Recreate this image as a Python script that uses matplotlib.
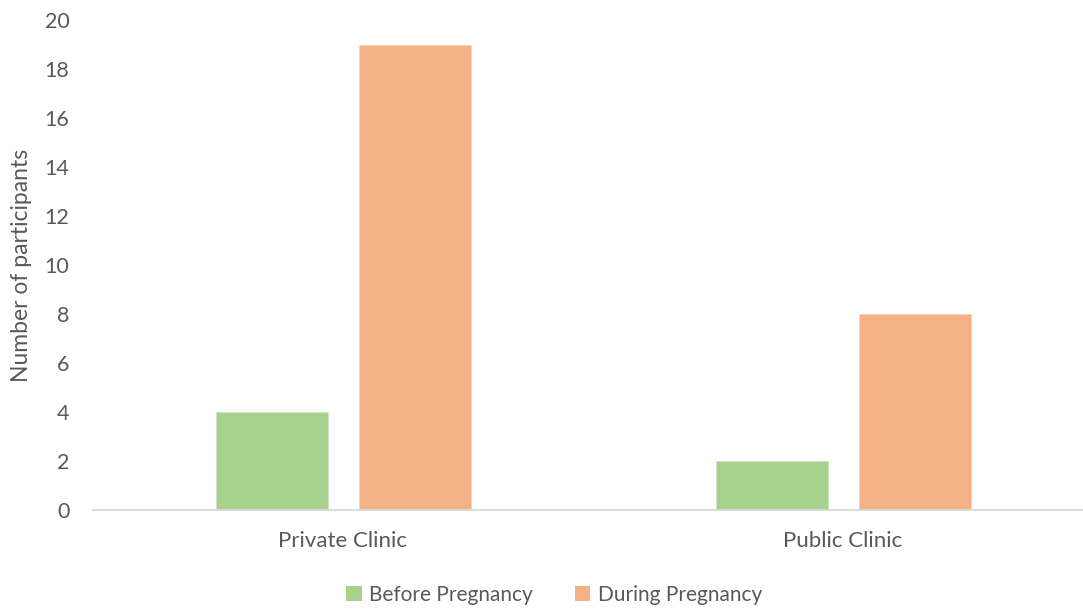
import numpy as np
import matplotlib.pyplot as plt
from matplotlib.patches import Patch

clinics = ["Private Clinic", "Public Clinic"]
before_preg = [4, 2]
during_preg = [19, 8]
series_names = ["Before Pregnancy", "During Pregnancy"]

green = "#A9D18E"
orange = "#F4B183"
txt = "#595959"

plt.rcParams["font.family"] = ["Lato", "DejaVu Sans"]

W, H = 1083, 610
fig = plt.figure(figsize=(W / 100, H / 100), dpi=100)
ax = fig.add_axes([93 / W, 100 / H, 1000 / W, 489.5 / H])

x = np.arange(len(clinics))
bw = 0.224
off = 0.143
ax.bar(x - off, before_preg, bw, color=green, edgecolor="#CFE6BF", linewidth=0.6)
ax.bar(x + off, during_preg, bw, color=orange, edgecolor="#F8D2B6", linewidth=0.6)

ax.set_xlim(-0.5, 1.5)
ax.set_ylim(0, 20)
ax.set_yticks(np.arange(0, 21, 2))
ax.set_xticks(x, labels=clinics)

for s in ["top", "right", "left"]:
    ax.spines[s].set_visible(False)
ax.spines["bottom"].set_color("#D9D9D9")
ax.spines["bottom"].set_linewidth(1.3)
ax.spines["bottom"].set_clip_on(False)

ax.tick_params(axis="y", length=0, pad=17, labelsize=15.5, labelcolor=txt)
ax.tick_params(axis="x", length=0, pad=15, labelsize=16, labelcolor=txt)
ax.set_ylabel("Number of participants", fontsize=16.5, color=txt, labelpad=9)

handles = [Patch(facecolor=green, label=series_names[0]),
           Patch(facecolor=orange, label=series_names[1])]
fig.legend(handles=handles, loc="center", bbox_to_anchor=(554 / W, 1 - 595 / H),
           ncol=2, frameon=False, fontsize=15, labelcolor=txt,
           handlelength=0.75, handleheight=0.75, handletextpad=0.35, columnspacing=2.0)

fig.savefig("out.png", dpi=100)
